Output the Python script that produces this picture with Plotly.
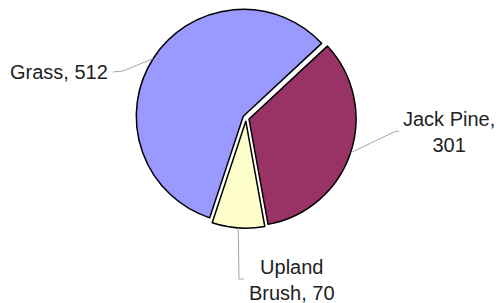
import math
import plotly.graph_objects as go

labels = ["Grass", "Jack Pine", "Upland Brush"]
values = [512, 301, 70]
label_text = ["Grass, 512", "Jack Pine,<br>301", "Upland<br>Brush, 70"]
colors = ["#9999FF", "#993366", "#FFFFCC"]

W, H = 497, 303
CX, CY = 246, 118          # pie centre in pixels (from top-left)
R = 107                    # pie radius in pixels
PULL = 0.03
ROT = 198.3                # start angle (clockwise from 12 o'clock)

half = R * (1 + PULL)
dom_x = [(CX - half) / W, (CX + half) / W]
dom_y = [(H - CY - half) / H, (H - CY + half) / H]

fig = go.Figure(go.Pie(
    labels=labels, values=values, sort=False, direction="clockwise",
    rotation=ROT, pull=[PULL] * len(values), textinfo="none",
    marker=dict(colors=colors, line=dict(color="#000000", width=1.5)),
    domain=dict(x=dom_x, y=dom_y), showlegend=False, hoverinfo="label+value",
))

# anchor points of the leader lines, computed from the data
total = sum(values)
anchors = []
ang = ROT
for v in values:
    span = 360 * v / total
    mid = math.radians(ang + span / 2)
    cx = CX + PULL * R * math.sin(mid)
    cy = CY - PULL * R * math.cos(mid)
    anchors.append((cx + R * math.sin(mid), cy - R * math.cos(mid)))
    ang += span

# leader-line elbows and label ends (pixels)
elbows = [[(123, 71), (113, 72)],
          [(394, 132), (399, 131)],
          [(239, 279), (244, 279)]]

def px(x, y):
    return x / W, 1 - y / H

shapes = []
for (ax, ay), pts in zip(anchors, elbows):
    seq = [(ax, ay)] + pts
    path = "M " + " L ".join(f"{px(x, y)[0]:.4f},{px(x, y)[1]:.4f}" for x, y in seq)
    shapes.append(dict(type="path", xref="paper", yref="paper", path=path,
                       line=dict(color="#A6A6A6", width=1)))

font = dict(family="Liberation Sans, Arial, sans-serif", size=20, color="#222222")
ann_pos = [(110, 72, "right"), (449, 132, "center"), (292, 280, "center")]
annotations = []
for t, (x, y, xa) in zip(label_text, ann_pos):
    annotations.append(dict(text=t, x=x / W, y=1 - y / H, xref="paper", yref="paper",
                            xanchor=xa, yanchor="middle", showarrow=False,
                            align="center", font=font))

fig.update_layout(width=W, height=H, margin=dict(l=0, r=0, t=0, b=0),
                  paper_bgcolor="white", plot_bgcolor="white",
                  shapes=shapes, annotations=annotations)
fig.write_html("out.html", config={"displayModeBar": False},
               post_script="document.body.style.margin='0';document.body.style.overflow='hidden';")
